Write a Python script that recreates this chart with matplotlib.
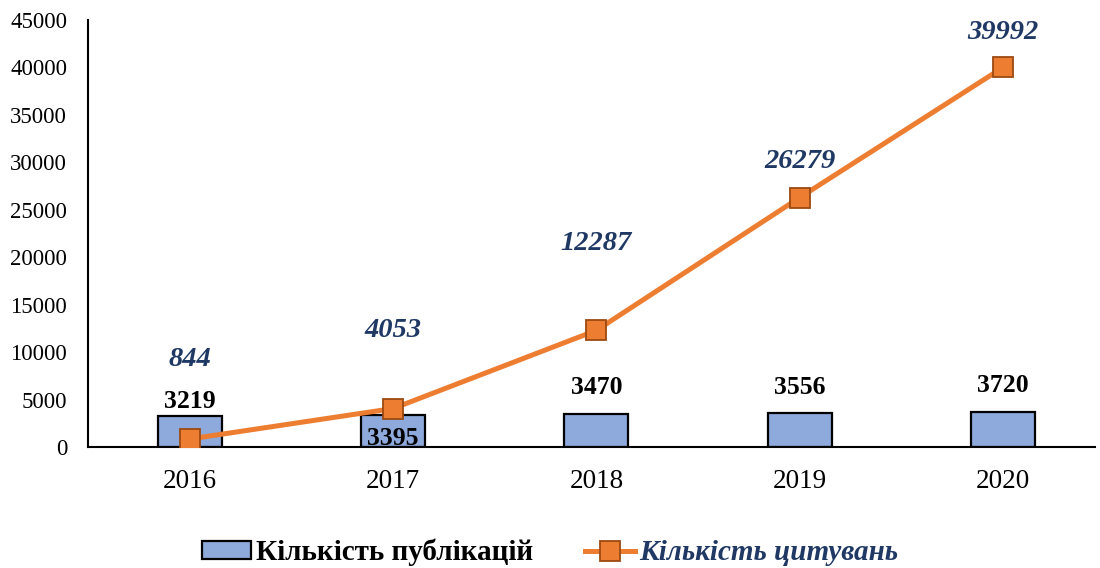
import matplotlib.pyplot as plt

plt.rcParams['font.family'] = ['Liberation Serif', 'DejaVu Serif']

years = ["2016", "2017", "2018", "2019", "2020"]
publications = [3219, 3395, 3470, 3556, 3720]
citations = [844, 4053, 12287, 26279, 39992]

# label offsets in pixels (hand-placed in the original)
pub_offsets = [15, -24, 27, 26, 26]
cit_offsets = [80, 78, 87, 36, 35]

label_blue = "#1F3864"

fig = plt.figure(figsize=(11, 5.68), dpi=100)
ax = fig.add_axes([0.08, 0.213, 0.915, 0.752])

x = range(len(years))
bars = ax.bar(x, publications, width=0.315, color="#8EA9DB", edgecolor="black",
              linewidth=1.6, zorder=2, label="Кількість публікацій")
line, = ax.plot(x, citations, color="#ED7D31", linewidth=3.6, marker="s",
                markersize=14, markerfacecolor="#ED7D31", markeredgecolor="#9C4A12",
                markeredgewidth=1.3, zorder=3, label="Кількість цитувань")

for i, v in enumerate(publications):
    ax.annotate(str(v), (i, v), xytext=(0, pub_offsets[i]), textcoords="offset pixels",
                ha="center", va="center", fontsize=18.5, fontweight="bold", zorder=4)
for i, v in enumerate(citations):
    ax.annotate(str(v), (i, v), xytext=(0, cit_offsets[i]), textcoords="offset pixels",
                ha="center", va="center", fontsize=20.5, fontweight="bold",
                fontstyle="italic", color=label_blue, zorder=4)

ax.set_xlim(-0.5, 4.45)
ax.set_ylim(0, 45000)
ax.set_yticks(range(0, 45001, 5000))
ax.set_xticks(list(x))
ax.set_xticklabels(years)
ax.tick_params(axis="y", length=0, pad=15, labelsize=16.5)
ax.tick_params(axis="x", length=0, pad=16, labelsize=19.5)
for side in ["top", "right"]:
    ax.spines[side].set_visible(False)
ax.spines["left"].set_linewidth(1.5)
ax.spines["bottom"].set_linewidth(1.5)

leg = fig.legend([bars, line], ["Кількість публікацій", "Кількість цитувань"],
                 loc="center", bbox_to_anchor=(0.5, 0.027), ncol=2,
                 frameon=False, fontsize=21, handlelength=1.7, columnspacing=1.8,
                 handletextpad=0.15, handleheight=0.6)
texts = leg.get_texts()
texts[0].set_fontweight("bold")
texts[1].set_fontweight("bold")
texts[1].set_fontstyle("italic")
texts[1].set_color(label_blue)

fig.savefig("out.png", dpi=100)
